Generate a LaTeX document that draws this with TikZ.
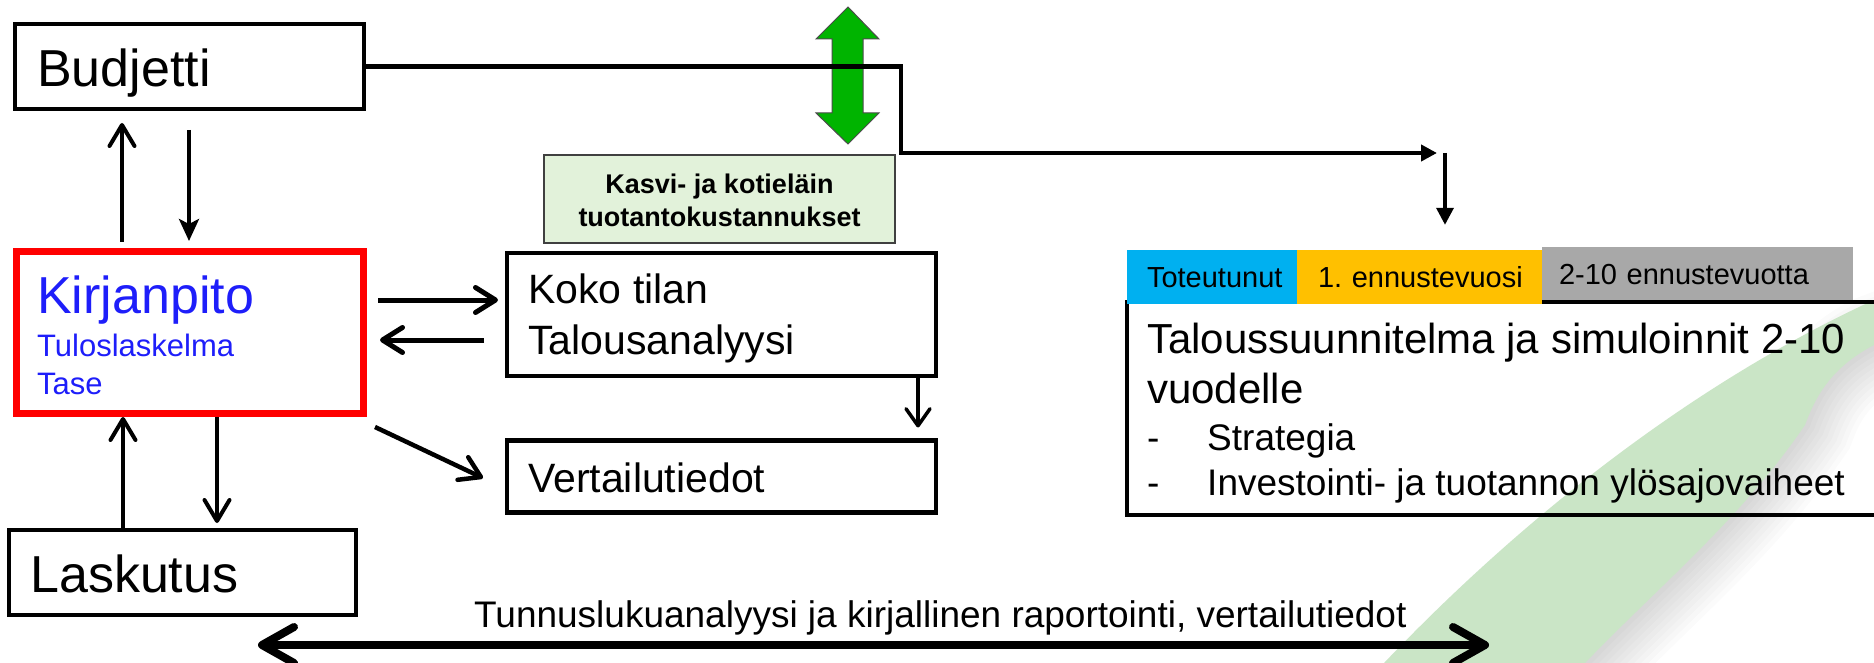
\documentclass[tikz,border=0pt]{standalone}
\usepackage{fontspec}
\setmainfont{Liberation Sans}
\usetikzlibrary{arrows.meta,calc}
\frenchspacing
\definecolor{kblue}{RGB}{30,30,250}
\definecolor{kred}{RGB}{255,0,0}
\definecolor{kgreen}{RGB}{0,180,0}
\definecolor{lgreen}{RGB}{226,242,218}
\definecolor{swoosh}{RGB}{202,229,198}
\definecolor{ccyan}{RGB}{0,176,240}
\definecolor{corange}{RGB}{255,192,0}
\definecolor{cgray}{RGB}{168,168,168}
\newcommand\fsBig{\fontsize{52pt}{60pt}\selectfont}
\newcommand\fsSub{\fontsize{31pt}{36pt}\selectfont}
\newcommand\fsMid{\fontsize{41pt}{48pt}\selectfont}
\newcommand\fsPlan{\fontsize{42pt}{48pt}\selectfont}
\newcommand\fsList{\fontsize{37pt}{44pt}\selectfont}
\newcommand\fsCell{\fontsize{29pt}{34pt}\selectfont}
\newcommand\fsKas{\fontsize{27pt}{33pt}\selectfont}
\newcommand\fsTun{\fontsize{37pt}{44pt}\selectfont}
\begin{document}
\begin{tikzpicture}[x=1pt,y=-1pt,
  box/.style={draw=black, line width=4pt, rectangle, inner sep=0pt},
  txt/.style={inner sep=0pt, anchor=base west},
  cell/.style={rectangle, inner sep=0pt, text height=21pt, text depth=0pt, align=left, font=\fsCell},
  chev/.style={line width=5pt, -{Straight Barb[length=20pt,width=25pt,round]}},
  chevthin/.style={line width=4pt, -{Straight Barb[length=21pt,width=25pt,round]}},
  stl/.style={line width=4pt, -{Stealth[length=22pt,width=20pt,inset=5pt]}},
  tri/.style={-{Triangle[length=#1,width=#1]}}
]
\useasboundingbox (0,0) rectangle (1874,663);
\fill[white] (0,0) rectangle (1874,663);
\clip (0,0) rectangle (1874,663);

% background swoosh with soft shadow
\foreach \w in {100,90,80,70,60,50,40,30,20,10}
  \draw[black, opacity=0.016, line width=\w pt]
    (1900,335) -- (1874,345) .. controls (1830,368) and (1815,398) .. (1805,425)
    .. controls (1740,520) and (1660,585) .. (1585,663) -- (1560,700);
\fill[swoosh] (1384,663) .. controls (1530,510) and (1700,380) .. (1874,300)
  -- (1900,290) -- (1900,335) -- (1874,345) .. controls (1830,368) and (1815,398) .. (1805,425)
  .. controls (1740,520) and (1660,585) .. (1585,663) -- (1560,700) -- (1350,700) -- cycle;

% green double arrow
\filldraw[fill=kgreen, draw=black!70, line width=1pt]
  (848,7) -- (879,39) -- (863,39) -- (863,113) -- (879,113) -- (848,144)
  -- (816,113) -- (832,113) -- (832,39) -- (816,39) -- cycle;

% boxes
\node[box, line width=3.5pt, minimum width=349pt, minimum height=85pt] (bud) at (189.5,66.5) {};
\node[box, draw=kred, line width=7pt, minimum width=347pt, minimum height=162pt] (kirj) at (190,332.5) {};
\node[box, minimum width=347pt, minimum height=85pt] (lask) at (182.5,572.5) {};
\node[box, line width=4.5pt, minimum width=429pt, minimum height=123pt] (koko) at (721.5,314.5) {};
\node[box, line width=4.5pt, minimum width=429pt, minimum height=72pt] (vert) at (721.5,476.5) {};
\node[box, draw=black!75, fill=lgreen, line width=2pt, minimum width=351pt, minimum height=88pt] (kasvi) at (719.5,199) {};
\node[box, minimum width=773pt, minimum height=213pt] (plan) at (1513.5,408.5) {};

% header cells
\node[cell, fill=ccyan, text width=170pt, minimum height=54pt] (tot) at (1212,277) {\hspace*{20pt}Toteutunut};
\node[cell, fill=corange, text width=245pt, minimum height=54pt] (ennu) at (1419.5,277) {\hspace*{21pt}1. ennustevuosi};
\node[cell, fill=cgray, text width=311pt, minimum height=53pt] (muut) at (1697.5,273.5) {\hspace*{17pt}2-10 ennustevuotta};

% texts
\node[txt, font=\fsBig] (budT) at (37,87) {Budjetti};
\node[txt, font=\fsBig, text=kblue] (kirjT) at (37,313) {Kirjanpito};
\node[txt, font=\fsSub, text=kblue] (kirjA) at (37,356) {Tuloslaskelma};
\node[txt, font=\fsSub, text=kblue] (kirjB) at (37,394) {Tase};
\node[txt, font=\fsBig] (laskT) at (30,592) {Laskutus};
\node[txt, font=\fsMid] (kokoA) at (528,303) {Koko tilan};
\node[txt, font=\fsMid] (kokoB) at (528,354) {Talousanalyysi};
\node[txt, font=\fsMid] (vertT) at (528,492) {Vertailutiedot};
\node[inner sep=0pt, anchor=base, font=\fsKas\bfseries] (kasA) at (719.5,194) {Kasvi- ja kotieläin};
\node[inner sep=0pt, anchor=base, font=\fsKas\bfseries] (kasB) at (719.5,227) {tuotantokustannukset};
\node[txt, font=\fsPlan] (planA) at (1147,353) {Taloussuunnitelma ja simuloinnit 2-10};
\node[txt, font=\fsPlan] (planB) at (1147,403) {vuodelle};
\node[txt, font=\fsList] (d1) at (1147,450) {-};
\node[txt, font=\fsList] (planC) at (1207,450) {Strategia};
\node[txt, font=\fsList] (d2) at (1147,495) {-};
\node[txt, font=\fsList] (planD) at (1207,495) {Investointi- ja tuotannon ylösajovaiheet};
\node[txt, font=\fsTun] (tunn) at (474,627) {Tunnuslukuanalyysi ja kirjallinen raportointi, vertailutiedot};

% connectors
\coordinate (bturn) at (1445,153);
\draw[line width=4.5pt, tri=16pt, shorten >=8pt] (bud.east) -| (901,153) -- (bturn);
\draw[line width=3.5pt, tri=17pt, shorten >=25pt] (bturn) -- (bturn |- ennu.north);

\draw[chevthin, shorten <=6pt, shorten >=12.25pt] ([xshift=-68pt]kirj.north) -- ([xshift=-67.5pt]bud.south);
\draw[stl, shorten <=19.25pt, shorten >=7pt] ([xshift=-0.5pt]bud.south) -- ([xshift=-1pt]kirj.north);

\draw[chev, shorten <=11pt, shorten >=6.75pt] ([yshift=32.5pt]kirj.east) -- ([yshift=14.5pt]koko.west);
\draw[chev, shorten <=20.75pt, shorten >=13pt] ([yshift=-25.5pt]koko.west) -- ([yshift=-7.5pt]kirj.east);
\draw[chev, line width=4.5pt] ([xshift=8pt,yshift=-10pt]kirj.south east) -- ([xshift=-21.75pt,yshift=-1.5pt]vert.west);
\draw[line width=3.5pt, -{Straight Barb[length=17pt,width=24pt,round]}, shorten >=10.75pt] ([xshift=196.5pt]koko.south) -- ([xshift=196.5pt]vert.north);

\draw[chevthin] ([xshift=-59.5pt]lask.north) -- ([xshift=-67pt]kirj.south);
\draw[chevthin, shorten >=5pt] ([xshift=27pt]kirj.south) -- ([xshift=34.5pt]lask.north);

\coordinate (bl) at (258,645);
\coordinate (br) at (1489,645);
\draw[line width=8pt, {Straight Barb[length=32pt,width=36pt,round]}-{Straight Barb[length=32pt,width=36pt,round]}] (bl) -- (br);
\end{tikzpicture}
\end{document}
